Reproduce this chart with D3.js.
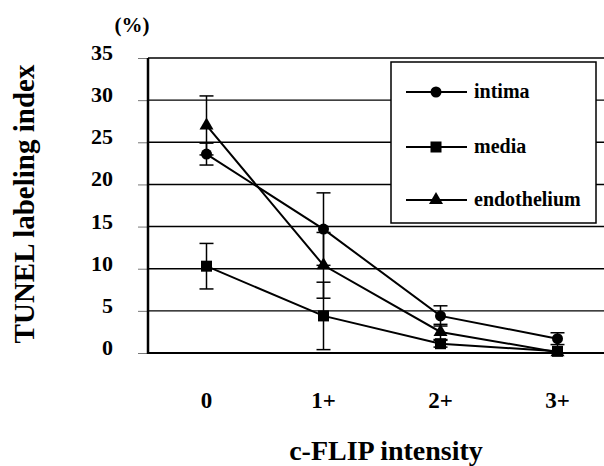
<!DOCTYPE html>
<html>
<head>
<meta charset="utf-8">
<script src="https://cdn.jsdelivr.net/npm/d3@7"></script>
<style>
  html, body { margin: 0; padding: 0; background: #fff; }
  svg { display: block; }
</style>
</head>
<body>
<svg id="chart" width="604" height="466" font-family="'Liberation Serif', 'Times New Roman', 'DejaVu Serif', serif" font-weight="bold"></svg>
<script>
// ---- data ----
const categories = ["0", "1+", "2+", "3+"];
const yTicks = [0, 5, 10, 15, 20, 25, 30, 35];
const intima = [23.6, 14.7, 4.4, 1.7];
const intimaErr = [1.3, 4.3, 1.2, 0.7];
const media = [10.3, 4.4, 1.1, 0.2];
const mediaErr = [2.7, 4.0, 0.4, 0];
const endothelium = [27.0, 10.4, 2.5, 0.1];
const endotheliumErr = [3.5, 3.9, 0.9, 0];
const seriesNames = ["intima", "media", "endothelium"];

const series = [
  { name: "intima", values: intima, err: intimaErr, shape: "circle" },
  { name: "media", values: media, err: mediaErr, shape: "square" },
  { name: "endothelium", values: endothelium, err: endotheliumErr, shape: "triangle" }
];

const FONT = "'Liberation Serif', 'Times New Roman', 'DejaVu Serif', serif";
const svg = d3.select("#chart");
const plotLeft = 148, plotTop = 58, plotBottom = 353, rightEdge = 604;

const x = d3.scaleBand().domain(categories).range([plotLeft, plotLeft + 117 * 4]).paddingInner(0).paddingOuter(0);
const cx = c => x(c) + x.bandwidth() / 2;
const y = d3.scaleLinear().domain([0, 35]).range([plotBottom, plotTop]);

function label(sel) {
  return sel.attr("font-family", FONT).attr("font-weight", "bold").attr("fill", "#000");
}

// gridlines
svg.append("g").selectAll("line").data(yTicks).join("line")
  .attr("x1", plotLeft).attr("x2", rightEdge)
  .attr("y1", d => y(d)).attr("y2", d => y(d))
  .attr("stroke", "#000").attr("stroke-width", d => d === 0 ? 2 : 1.4);

// y axis with small outer ticks
const yAxis = d3.axisLeft(y).tickValues(yTicks).tickSize(10).tickFormat("");
const ga = svg.append("g").attr("transform", `translate(${plotLeft},0)`).call(yAxis);
ga.select(".domain").remove();
ga.selectAll(".tick line").attr("stroke", "#777").attr("stroke-width", 1);
svg.append("line").attr("x1", plotLeft).attr("x2", plotLeft).attr("y1", plotTop).attr("y2", plotBottom + 1)
  .attr("stroke", "#000").attr("stroke-width", 2.5);

// y tick labels
svg.append("g").selectAll("text").data(yTicks).join("text")
  .attr("x", 113).attr("y", d => y(d) + 2)
  .attr("text-anchor", "end").attr("font-size", 22)
  .text(d => d).call(label);

svg.append("text").attr("x", 132).attr("y", 32).attr("text-anchor", "middle")
  .attr("font-size", 21).text("(%)").call(label);

// x tick labels
svg.append("g").selectAll("text").data(categories).join("text")
  .attr("x", d => cx(d)).attr("y", 408)
  .attr("text-anchor", "middle").attr("font-size", 23)
  .text(d => d).call(label);

// axis titles
svg.append("text").attr("x", 386).attr("y", 460).attr("text-anchor", "middle")
  .attr("font-size", 28).text("c-FLIP intensity").call(label);
svg.append("text").attr("transform", "translate(34,204) rotate(-90)")
  .attr("text-anchor", "middle").attr("font-size", 29).text("TUNEL labeling index").call(label);

// marker drawing
function marker(g, shape, px, py) {
  if (shape === "circle") {
    g.append("circle").attr("cx", px).attr("cy", py).attr("r", 5.5).attr("fill", "#000");
  } else if (shape === "square") {
    g.append("rect").attr("x", px - 5.5).attr("y", py - 5.5).attr("width", 11).attr("height", 11).attr("fill", "#000");
  } else {
    g.append("path").attr("d", `M${px},${py - 8}L${px + 7},${py + 4}L${px - 7},${py + 4}Z`).attr("fill", "#000");
  }
}

const line = d3.line().x((d, i) => cx(categories[i])).y(d => y(d));
const capW = 7;

series.forEach(s => {
  const g = svg.append("g");
  // error bars
  s.values.forEach((v, i) => {
    const e = s.err[i];
    if (e <= 0) return;
    const px = cx(categories[i]);
    g.append("line").attr("x1", px).attr("x2", px).attr("y1", y(v + e)).attr("y2", y(Math.max(0, v - e)))
      .attr("stroke", "#000").attr("stroke-width", 1.5);
    [v + e, v - e].forEach(w => {
      if (w < 0) return;
      g.append("line").attr("x1", px - capW).attr("x2", px + capW).attr("y1", y(w)).attr("y2", y(w))
        .attr("stroke", "#000").attr("stroke-width", 1.5);
    });
  });
  g.append("path").datum(s.values).attr("d", line).attr("fill", "none")
    .attr("stroke", "#000").attr("stroke-width", 2);
  s.values.forEach((v, i) => marker(g, s.shape, cx(categories[i]), y(v)));
});

// legend
const lg = svg.append("g");
lg.append("rect").attr("x", 391).attr("y", 62).attr("width", 205).attr("height", 161)
  .attr("fill", "#fff").attr("stroke", "#000").attr("stroke-width", 1.5);
const legendY = [92, 147, 200];
series.forEach((s, i) => {
  const ly = legendY[i];
  lg.append("line").attr("x1", 406).attr("x2", 467).attr("y1", ly).attr("y2", ly)
    .attr("stroke", "#000").attr("stroke-width", 2);
  marker(lg, s.shape, 436, ly);
  lg.append("text").attr("x", 474).attr("y", ly + 6).attr("font-size", 20).text(seriesNames[i]).call(label);
});
</script>
</body>
</html>
